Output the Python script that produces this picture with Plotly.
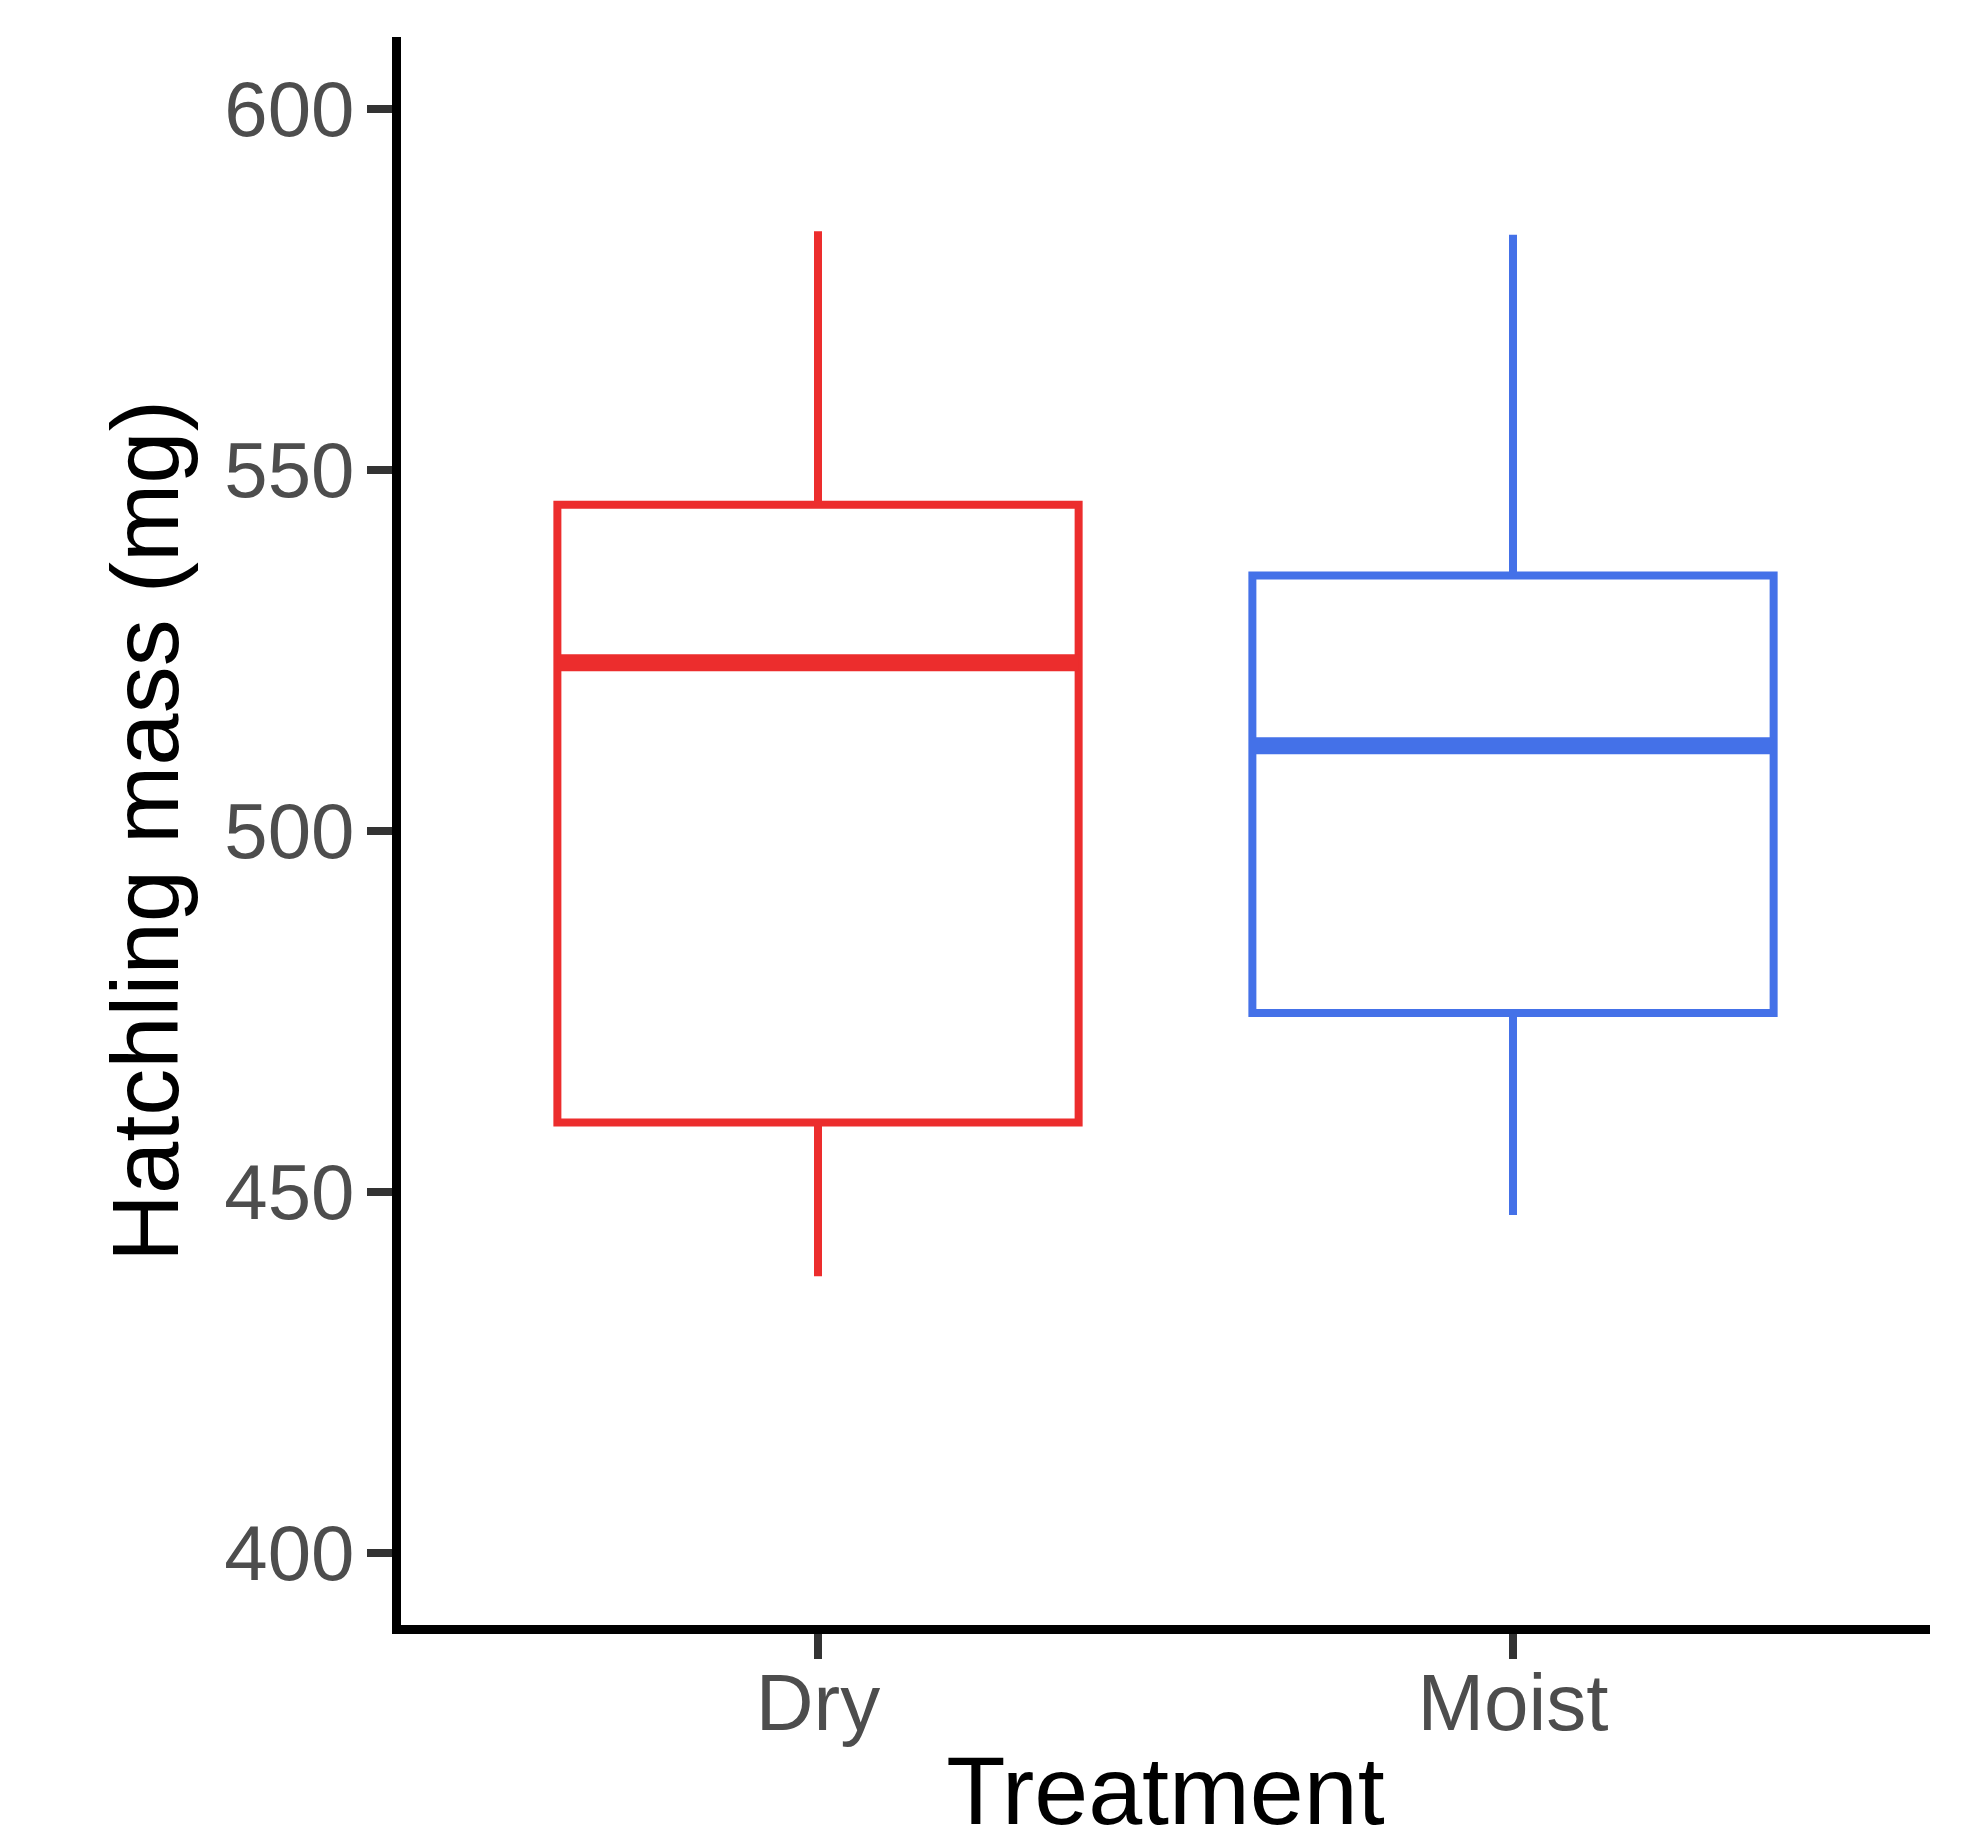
import plotly.graph_objects as go

categories = ["Dry", "Moist"]
positions = [1, 2]
colors = ["#EC2D2D", "#4471E8"]
upper_whisker = [583.1, 582.6]
q3 = [545.2, 535.4]
median = [523.3, 511.8]
q1 = [459.6, 474.8]
lower_whisker = [438.3, 446.8]
box_width = 0.75
y_ticks = [400, 450, 500, 550, 600]

fig = go.Figure()
for i, cat in enumerate(categories):
    fig.add_trace(go.Box(
        x=[positions[i]], q1=[q1[i]], median=[median[i]], q3=[q3[i]],
        lowerfence=[lower_whisker[i]], upperfence=[upper_whisker[i]],
        name=cat, width=box_width, whiskerwidth=0,
        line=dict(color=colors[i], width=8), fillcolor="white",
        boxpoints=False, showlegend=False,
    ))
for i, cat in enumerate(categories):
    fig.add_trace(go.Scatter(
        x=[positions[i] - box_width / 2, positions[i] + box_width / 2],
        y=[median[i], median[i]], mode="lines",
        line=dict(color=colors[i], width=17), showlegend=False, hoverinfo="skip",
    ))

font = "Liberation Sans, Arial, sans-serif"
fig.update_layout(
    width=1975, height=1837,
    margin=dict(l=393, r=53, t=29, b=220),
    paper_bgcolor="white", plot_bgcolor="white",
    font=dict(family=font),
)
fig.update_xaxes(
    range=[0.4, 2.6], tickvals=positions, ticktext=categories,
    showline=True, linecolor="black", linewidth=9,
    ticks="outside", ticklen=25, tickwidth=8, tickcolor="#333333",
    tickfont=dict(size=80, color="#4D4D4D", family=font),
    ticklabelstandoff=-25,
    showgrid=False, zeroline=False, automargin=False,
    title=dict(text="Treatment", font=dict(size=97, color="black", family=font), standoff=34),
)
fig.update_yaxes(
    range=[390, 610], tickvals=y_ticks,
    showline=True, linecolor="black", linewidth=9,
    ticks="outside", ticklen=25, tickwidth=8, tickcolor="#333333",
    tickfont=dict(size=78, color="#4D4D4D", family=font),
    ticklabelstandoff=-3,
    showgrid=False, zeroline=False, automargin=False,
    title=dict(text="Hatchling mass (mg)", font=dict(size=94, color="black", family=font), standoff=18),
)
fig.write_html("out.html")
